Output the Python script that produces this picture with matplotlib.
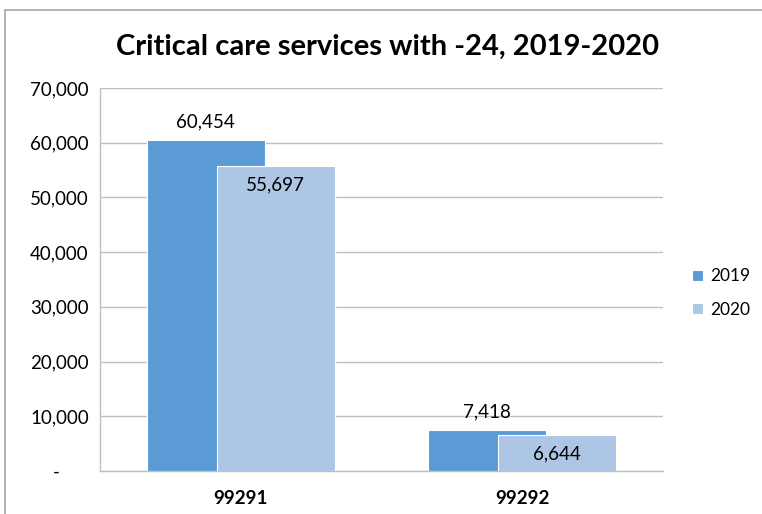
import matplotlib
matplotlib.use('Agg')
import matplotlib.pyplot as plt
from matplotlib.patches import Rectangle
from matplotlib.ticker import FuncFormatter, MultipleLocator
import numpy as np

# chart data
codes = ['99291', '99292']
years = ['2019', '2020']
values_2019 = [60454, 7418]
values_2020 = [55697, 6644]

colors = {'2019': '#5B9BD5', '2020': '#ADC6E5'}
font = 'Lato'
fs = 13.5

fig = plt.figure(figsize=(7.62, 5.14), dpi=100)
ax = fig.add_axes([0.1312, 0.0837, 0.7388, 0.7451])

x = np.arange(len(codes))
width = 0.42
offset = 0.124

bars19 = ax.bar(x - offset, values_2019, width, color=colors['2019'],
                edgecolor='white', linewidth=0.8, label='2019', zorder=2)
bars20 = ax.bar(x + offset, values_2020, width, color=colors['2020'],
                edgecolor='white', linewidth=0.8, label='2020', zorder=3)

# data labels: 2019 outside the end, 2020 inside the end
for b, v in zip(bars19, values_2019):
    ax.annotate('{:,}'.format(v), (b.get_x() + b.get_width() / 2, v),
                xytext=(0, 7), textcoords='offset points', ha='center',
                va='bottom', fontsize=fs, family=font, zorder=4)
for b, v in zip(bars20, values_2020):
    ax.annotate('{:,}'.format(v), (b.get_x() + b.get_width() / 2, v),
                xytext=(0, -7.5), textcoords='offset points', ha='center',
                va='top', fontsize=fs, family=font, zorder=4)

ax.set_xlim(-0.5, 1.5)
ax.set_ylim(0, 70000)
ax.yaxis.set_major_locator(MultipleLocator(10000))
ax.yaxis.set_major_formatter(FuncFormatter(
    lambda v, p: '-      ' if v == 0 else '{:,.0f}'.format(v)))
ax.set_xticks(x)
ax.set_xticklabels(codes, fontweight='bold')

for lbl in ax.get_xticklabels() + ax.get_yticklabels():
    lbl.set_family(font)
    lbl.set_fontsize(fs)
ax.tick_params(axis='y', length=0, pad=8)
ax.tick_params(axis='x', length=0, pad=14)

ax.grid(axis='y', color='#BFBFBF', linewidth=1, zorder=0)
ax.set_axisbelow(True)
for s in ['top', 'right']:
    ax.spines[s].set_visible(False)
for s in ['left', 'bottom']:
    ax.spines[s].set_color('#BFBFBF')
    ax.spines[s].set_linewidth(1)

fig.text(0.509, 0.909, 'Critical care services with -24, 2019-2020',
         ha='center', va='center', fontsize=21, fontweight='bold', family=font)

leg = fig.legend(handles=[bars19, bars20], labels=years,
                 loc='center left', bbox_to_anchor=(0.888, 0.43),
                 frameon=False, handlelength=0.6, handleheight=0.6,
                 handletextpad=0.45, labelspacing=1.0,
                 prop={'family': font, 'size': 12.5})

# outer chart frame (partly cropped in the original)
fig.patches.append(Rectangle((0.007, -0.1), 1.2, 1.081, transform=fig.transFigure,
                             fill=False, edgecolor='#A6A6A6', linewidth=1.2))

fig.savefig('out.png', dpi=100)
